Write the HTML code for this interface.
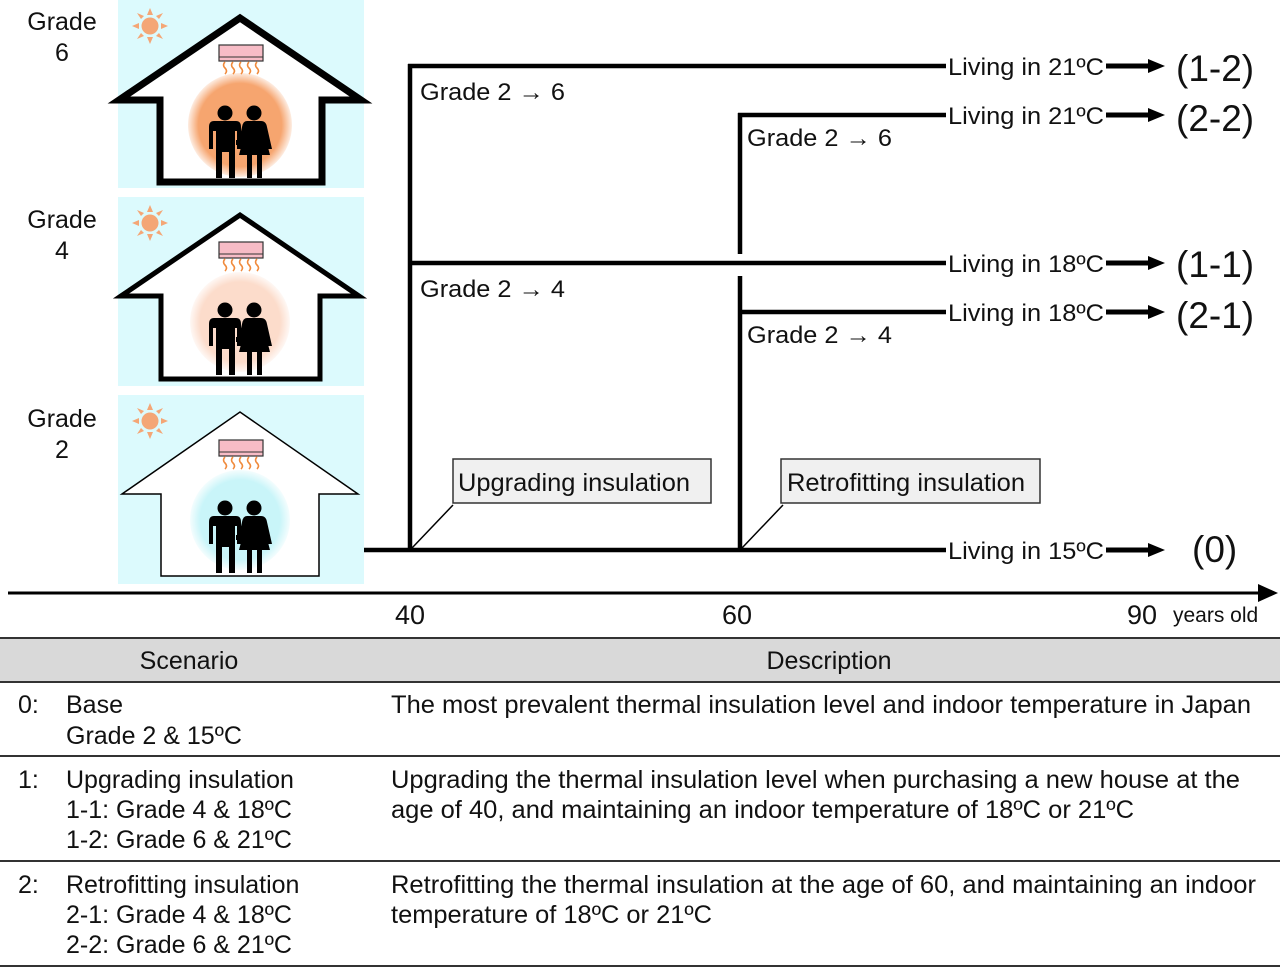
<!DOCTYPE html>
<html><head><meta charset="utf-8"><style>
html,body{margin:0;padding:0;background:#fff;}
svg{display:block;}
text{font-family:"Liberation Sans",Arial,sans-serif;fill:#111;}
</style></head><body>
<svg width="1280" height="968" viewBox="0 0 1280 968" xmlns="http://www.w3.org/2000/svg">
<defs>
<radialGradient id="g6"><stop offset="0.8" stop-color="#f6a56f"/><stop offset="1" stop-color="#f6a56f" stop-opacity="0.2"/></radialGradient>
<radialGradient id="g4"><stop offset="0.8" stop-color="#fcdccb"/><stop offset="1" stop-color="#fcdccb" stop-opacity="0.2"/></radialGradient>
<radialGradient id="g2"><stop offset="0.8" stop-color="#c9f5f9"/><stop offset="1" stop-color="#c9f5f9" stop-opacity="0.2"/></radialGradient>
<g id="sun">
<circle cx="150" cy="26" r="8.5" fill="#f4a676"/>
<g fill="#f4a676">
<polygon points="147,15 153,15 150,8"/>
<polygon points="147,37 153,37 150,44"/>
<polygon points="139,23 139,29 132,26"/>
<polygon points="161,23 161,29 168,26"/>
<polygon points="141,19 144,16 137,13"/>
<polygon points="159,19 156,16 163,13"/>
<polygon points="141,33 144,36 137,39"/>
<polygon points="159,33 156,36 163,39"/>
</g>
</g>
<g id="ac">
<rect x="219" y="45" width="44" height="16" fill="#f7bcc6" stroke="#333" stroke-width="1.2"/>
<line x1="219" y1="57" x2="263" y2="57" stroke="#333" stroke-width="1"/>
<g fill="none" stroke="#f08a3c" stroke-width="1.6">
<path d="M225,62 q-3,3 0,6 q3,3 0,6"/>
<path d="M233,62 q-3,3 0,6 q3,3 0,6"/>
<path d="M241,62 q-3,3 0,6 q3,3 0,6"/>
<path d="M249,62 q-3,3 0,6 q3,3 0,6"/>
<path d="M257,62 q-3,3 0,6 q3,3 0,6"/>
</g>
</g>
<g id="people" fill="#000">
<circle cx="225" cy="113" r="7.5"/>
<path d="M214,121 L236,121 Q241,121 241,127 L241,149 L237,149 L237,131 L235,131 L235,178 L229,178 L229,152 L222,152 L222,178 L216,178 L216,131 L213,131 L213,149 L209,149 L209,127 Q209,121 214,121 Z"/>
<circle cx="254" cy="113" r="7.5"/>
<path d="M247,121 L261,121 Q266,121 267,127 L272,149 L268,149 L264,132 L270,155 L262,155 L262,178 L257,178 L257,155 L252,155 L252,178 L247,178 L247,155 L239,155 L245,132 L241,149 L237,149 L242,127 Q243,121 247,121 Z"/>
<rect x="236" y="140" width="9" height="5"/>
</g>
</defs>

<rect x="118" y="0" width="246" height="188" fill="#dcfafd"/>
<rect x="118" y="197" width="246" height="189" fill="#dcfafd"/>
<rect x="118" y="395" width="246" height="189" fill="#dcfafd"/>

<polygon points="119,100 240,18 361,100 322,100 322,182 160,182 160,100" fill="#fff" stroke="#000" stroke-width="7" stroke-linejoin="miter"/>
<circle cx="240" cy="125" r="52" fill="url(#g6)"/>
<use href="#sun"/><use href="#ac"/><use href="#people"/>

<g transform="translate(0,197)">
<polygon points="121,99 240,18 359,99 320,99 320,182 161,182 161,99" fill="#fff" stroke="#000" stroke-width="5" stroke-linejoin="miter"/>
<circle cx="240" cy="125" r="50" fill="url(#g4)"/>
<use href="#sun"/><use href="#ac"/><use href="#people"/>
</g>

<g transform="translate(0,395)">
<polygon points="122,99 240,17 358,99 319,99 319,181 161,181 161,99" fill="#fff" stroke="#000" stroke-width="1.5"/>
<circle cx="240" cy="125" r="50" fill="url(#g2)"/>
<use href="#sun"/><use href="#ac"/><use href="#people"/>
</g>

<g font-size="25" text-anchor="middle">
<text x="62" y="30">Grade</text>
<text x="62" y="61">6</text>
<text x="62" y="228">Grade</text>
<text x="62" y="259">4</text>
<text x="62" y="427">Grade</text>
<text x="62" y="458">2</text>
</g>

<g stroke="#000" stroke-width="4.5" fill="none">
<line x1="364" y1="550" x2="946" y2="550"/>
<line x1="410" y1="64" x2="410" y2="552"/>
<line x1="408" y1="66" x2="946" y2="66"/>
<line x1="408" y1="263" x2="946" y2="263"/>
<line x1="740" y1="113" x2="740" y2="254"/>
<line x1="738" y1="115" x2="946" y2="115"/>
<line x1="740" y1="276" x2="740" y2="552"/>
<line x1="738" y1="312" x2="946" y2="312"/>
</g>
<g stroke="#000" stroke-width="1.5">
<line x1="412" y1="548" x2="453" y2="505"/>
<line x1="742" y1="548" x2="783" y2="505"/>
</g>

<g font-size="24">
<text x="420" y="100" textLength="145" lengthAdjust="spacingAndGlyphs">Grade 2 → 6</text>
<text x="747" y="146" textLength="145" lengthAdjust="spacingAndGlyphs">Grade 2 → 6</text>
<text x="420" y="297" textLength="145" lengthAdjust="spacingAndGlyphs">Grade 2 → 4</text>
<text x="747" y="343" textLength="145" lengthAdjust="spacingAndGlyphs">Grade 2 → 4</text>
</g>

<rect x="453" y="459" width="258" height="44" fill="#f0f0f0" stroke="#333" stroke-width="1.5"/>
<text x="458" y="491" font-size="25" textLength="232" lengthAdjust="spacingAndGlyphs">Upgrading insulation</text>
<rect x="781" y="459" width="259" height="44" fill="#f0f0f0" stroke="#333" stroke-width="1.5"/>
<text x="787" y="491" font-size="25" textLength="238" lengthAdjust="spacingAndGlyphs">Retrofitting insulation</text>

<g font-size="24">
<text x="948" y="75" textLength="156" lengthAdjust="spacingAndGlyphs">Living in 21ºC</text>
<text x="948" y="124" textLength="156" lengthAdjust="spacingAndGlyphs">Living in 21ºC</text>
<text x="948" y="272" textLength="156" lengthAdjust="spacingAndGlyphs">Living in 18ºC</text>
<text x="948" y="321" textLength="156" lengthAdjust="spacingAndGlyphs">Living in 18ºC</text>
<text x="948" y="559" textLength="156" lengthAdjust="spacingAndGlyphs">Living in 15ºC</text>
</g>
<g fill="#000" stroke="#000">
<line x1="1106" y1="66" x2="1150" y2="66" stroke-width="5"/><polygon points="1148,59 1165,66 1148,73" stroke="none"/>
<line x1="1106" y1="115" x2="1150" y2="115" stroke-width="5"/><polygon points="1148,108 1165,115 1148,122" stroke="none"/>
<line x1="1106" y1="263" x2="1150" y2="263" stroke-width="5"/><polygon points="1148,256 1165,263 1148,270" stroke="none"/>
<line x1="1106" y1="312" x2="1150" y2="312" stroke-width="5"/><polygon points="1148,305 1165,312 1148,319" stroke="none"/>
<line x1="1106" y1="550" x2="1150" y2="550" stroke-width="5"/><polygon points="1148,543 1165,550 1148,557" stroke="none"/>
</g>
<g font-size="37">
<text x="1176" y="81">(1-2)</text>
<text x="1176" y="131">(2-2)</text>
<text x="1176" y="277">(1-1)</text>
<text x="1176" y="328">(2-1)</text>
<text x="1192" y="562">(0)</text>
</g>

<line x1="8" y1="593" x2="1262" y2="593" stroke="#000" stroke-width="3"/>
<polygon points="1258,584 1278,593 1258,602" fill="#000"/>
<text x="410" y="624" font-size="27" text-anchor="middle">40</text>
<text x="737" y="624" font-size="27" text-anchor="middle">60</text>
<text x="1142" y="624" font-size="27" text-anchor="middle">90</text>
<text x="1173" y="622" font-size="21">years old</text>

<rect x="0" y="638" width="1280" height="44" fill="#d9d9d9"/>
<g stroke="#333" stroke-width="2">
<line x1="0" y1="638" x2="1280" y2="638"/>
<line x1="0" y1="682" x2="1280" y2="682"/>
<line x1="0" y1="756" x2="1280" y2="756"/>
<line x1="0" y1="861" x2="1280" y2="861"/>
<line x1="0" y1="966" x2="1280" y2="966"/>
</g>
<g font-size="25">
<text x="189" y="669" text-anchor="middle">Scenario</text>
<text x="829" y="669" text-anchor="middle">Description</text>
<text x="18" y="713">0:</text>
<text x="66" y="713">Base</text>
<text x="66" y="744">Grade 2 &amp; 15ºC</text>
<text x="391" y="713" textLength="860" lengthAdjust="spacingAndGlyphs">The most prevalent thermal insulation level and indoor temperature in Japan</text>
<text x="18" y="788">1:</text>
<text x="66" y="788">Upgrading insulation</text>
<text x="66" y="818">1-1: Grade 4 &amp; 18ºC</text>
<text x="66" y="848">1-2: Grade 6 &amp; 21ºC</text>
<text x="391" y="788" textLength="849" lengthAdjust="spacingAndGlyphs">Upgrading the thermal insulation level when purchasing a new house at the</text>
<text x="391" y="818" textLength="743" lengthAdjust="spacingAndGlyphs">age of 40, and maintaining an indoor temperature of 18ºC or 21ºC</text>
<text x="18" y="893">2:</text>
<text x="66" y="893">Retrofitting insulation</text>
<text x="66" y="923">2-1: Grade 4 &amp; 18ºC</text>
<text x="66" y="953">2-2: Grade 6 &amp; 21ºC</text>
<text x="391" y="893" textLength="865" lengthAdjust="spacingAndGlyphs">Retrofitting the thermal insulation at the age of 60, and maintaining an indoor</text>
<text x="391" y="923" textLength="321" lengthAdjust="spacingAndGlyphs">temperature of 18ºC or 21ºC</text>
</g>
</svg>
</body></html>
